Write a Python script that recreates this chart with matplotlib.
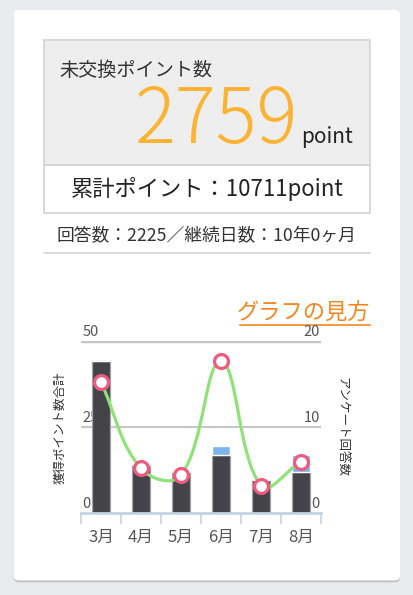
import numpy as np
import matplotlib
matplotlib.use("Agg")
import matplotlib.pyplot as plt
from matplotlib.patches import FancyBboxPatch, Rectangle
from matplotlib.path import Path
from matplotlib.patches import PathPatch

plt.rcParams['font.family'] = ['Noto Sans CJK JP', 'DejaVu Sans']

# data
months = ["3月", "4月", "5月", "6月", "7月", "8月"]
points_main = [44, 14, 12, 17, 9.6, 12]
points_extra = [0, 0, 0, 2.5, 0, 4.9]
answers = [15.2, 5.2, 4.4, 17.6, 3.2, 6.0]
left_ticks = [0, 25, 50]
right_ticks = [0, 10, 20]

W, H = 413, 595
fig = plt.figure(figsize=(W / 100, H / 100), dpi=100)
fig.patch.set_facecolor("#e9eaee")

# page layer in pixel coordinates
bg = fig.add_axes([0, 0, 1, 1])
bg.set_xlim(0, W)
bg.set_ylim(H, 0)
bg.axis("off")

# card with soft shadow
for off, a in [(2.0, 0.10), (1.0, 0.12)]:
    bg.add_patch(FancyBboxPatch((13.5, 10 + off), 386.5, 570.5, boxstyle="round,pad=0,rounding_size=5",
                                fc="#000000", ec="none", alpha=a))
bg.add_patch(FancyBboxPatch((13.5, 10), 386.5, 570.5, boxstyle="round,pad=0,rounding_size=5",
                            fc="white", ec="none"))

# points box
bg.add_patch(Rectangle((43.5, 40), 326, 125, fc="#eeeeee", ec="#d3d3d3", lw=1.2))
bg.add_patch(Rectangle((43.5, 165), 326, 47.5, fc="white", ec="#d3d3d3", lw=1.2))
bg.plot([43.5, 369.5], [252.8, 252.8], color="#d6d6d6", lw=1.2)

bg.text(59, 70, "未交換ポイント数", fontsize=13.8, color="#333333", va="center", ha="left")
bg.text(298, 143, "2759", fontsize=55, fontweight="light", color="#fbb331", va="baseline", ha="right")
bg.text(301, 143, "point", fontsize=15, color="#222222", va="baseline", ha="left")
bg.text(207, 189, "累計ポイント：10711point", fontsize=16, color="#222222", va="center", ha="center")
bg.text(206, 236, "回答数：2225／継続日数：10年0ヶ月", fontsize=12.8, color="#333333", va="center", ha="center")

bg.text(370, 313, "グラフの見方", fontsize=16, color="#f5861f", va="center", ha="right")
bg.plot([240, 370], [324.5, 324.5], color="#f5861f", lw=1.2)

# chart
x0, x1 = 81, 321
ytop, ybot = 340.7, 513.3
ax = fig.add_axes([x0 / W, (H - ybot) / H, (x1 - x0) / W, (ybot - ytop) / H])
ax.set_xlim(-0.5, 5.5)
ax.set_ylim(0, 50)
ax.patch.set_alpha(0)
for s in ["top", "left", "right"]:
    ax.spines[s].set_visible(False)
ax.spines["bottom"].set_color("#c3d3e3")
ax.spines["bottom"].set_linewidth(2)
ax.set_yticks([])

x = np.arange(len(months))
ax.axhline(50, color="#c6c6c6", lw=2.5, zorder=1)
ax.axhline(25, color="#c6c6c6", lw=1.5, zorder=1)

ax.bar(x, points_main, width=0.45, color="#444349", edgecolor="#a4a4a4", lw=0.9, zorder=2)
ax.bar(x, points_extra, width=0.45, bottom=points_main, color="#7cb5ec", edgecolor="white", lw=1.0, zorder=2)

ax.set_xticks(x)
ax.set_xticklabels(months, fontsize=12, color="#555555")
ax.set_xticks(np.arange(-0.5, 6, 1), minor=True)
ax.tick_params(axis="x", which="major", length=0, pad=11)
ax.tick_params(axis="x", which="minor", length=8, width=1.2, color="#c3d3e3")

for v in left_ticks:
    ax.text(-0.47, v + 0.6, str(v), fontsize=10.5, color="#555555", ha="left", va="bottom", zorder=1)

ax2 = ax.twinx()
ax2.set_ylim(0, 20)
ax2.axis("off")
for v in right_ticks:
    ax2.text(5.47, v + 0.25, str(v), fontsize=10.5, color="#555555", ha="right", va="bottom", zorder=1)

# smooth line through the points (tension spline in pixel space)
pts = ax2.transData.transform(np.column_stack([x, answers]))
t = 0.4
verts = [tuple(pts[0])]
codes = [Path.MOVETO]
cps = []
for i in range(len(pts)):
    prev = pts[max(i - 1, 0)]
    nxt = pts[min(i + 1, len(pts) - 1)]
    cur = pts[i]
    d01 = np.hypot(*(cur - prev))
    d12 = np.hypot(*(nxt - cur))
    tot = d01 + d12 if d01 + d12 > 0 else 1
    fa = t * d01 / tot
    fb = t * d12 / tot
    cps.append((cur - fa * (nxt - prev), cur + fb * (nxt - prev)))
for i in range(len(pts) - 1):
    verts += [tuple(cps[i][1]), tuple(cps[i + 1][0]), tuple(pts[i + 1])]
    codes += [Path.CURVE4] * 3
inv = ax2.transData.inverted()
path = Path(inv.transform(np.array(verts)), codes)
ax2.add_patch(PathPatch(path, fc="none", ec="#8fe27a", lw=2.3, zorder=3))
ax2.plot(x, answers, "o", ms=10, mfc="white", mec="#ef5a7e", mew=2.3, zorder=4)

ax.set_zorder(1)
ax2.set_zorder(2)

fig.text(60.5 / W, 1 - 428 / H, "獲得ポイント数合計", rotation=90, fontsize=9, color="#333333",
         ha="center", va="center")
fig.text(342 / W, 1 - 427 / H, "アンケート回答数", rotation=270, fontsize=9, color="#333333",
         ha="center", va="center")

fig.savefig("out.png", dpi=100, facecolor=fig.get_facecolor())
